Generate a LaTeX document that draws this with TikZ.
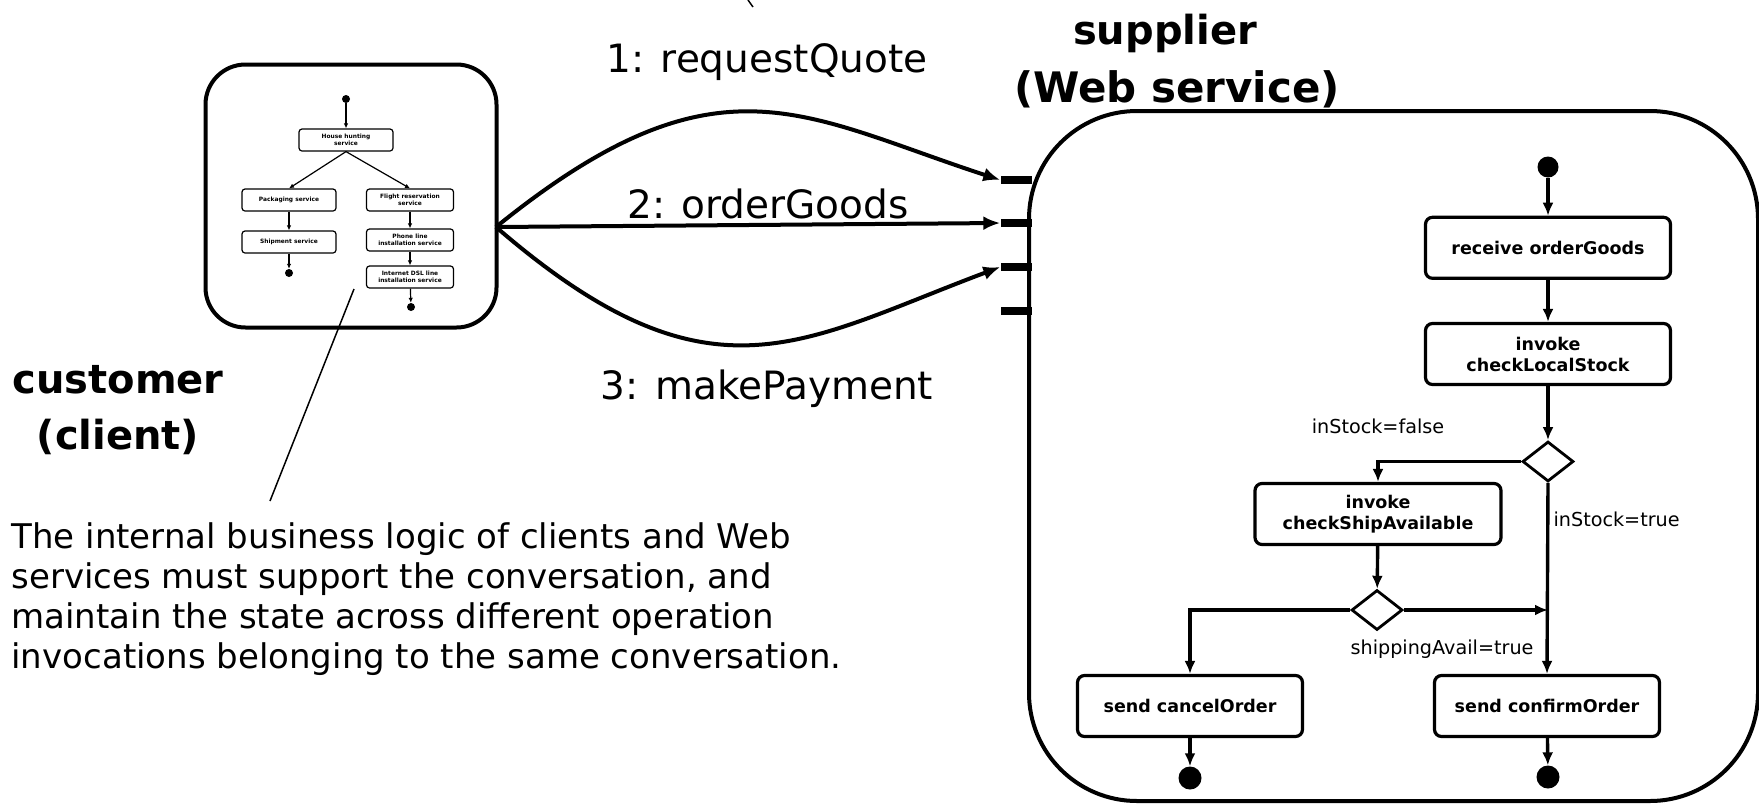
\documentclass[tikz,border=0pt]{standalone}
\usepackage{fontspec}
\setmainfont{DejaVu Sans}
\usetikzlibrary{arrows.meta, positioning, shapes.geometric}

\tikzset{
  act/.style={draw, rounded corners=7pt, line width=3.2pt, minimum width=245pt,
    minimum height=61pt, align=center, font=\fontsize{17.5}{21}\selectfont\bfseries},
  miniact/.style={draw, rounded corners=3pt, line width=1.2pt, minimum width=94pt,
    minimum height=22pt, inner sep=1pt, align=center,
    font=\fontsize{5.9}{7.2}\selectfont\bfseries},
  bullet/.style={circle, fill, inner sep=0pt, minimum size=21pt},
  minibullet/.style={circle, fill, inner sep=0pt, minimum size=8pt},
  choice/.style={diamond, draw, line width=2.8pt, inner sep=0pt,
    minimum width=51pt, minimum height=40pt},
  port/.style={fill, inner sep=0pt, minimum width=31pt, minimum height=8pt},
  guard/.style={font=\fontsize{19.2}{23}\selectfont},
  msg/.style={font=\fontsize{39}{46}\selectfont},
  title/.style={font=\fontsize{42}{48}\selectfont\bfseries},
  flow/.style={->, line width=3.4pt},
  miniflow/.style={-{Latex[length=5pt, width=4.5pt]}, line width=1.2pt},
  call/.style={-{Latex[length=17pt, width=14pt]}, line width=4pt},
}

\begin{document}
\begin{tikzpicture}[x=1pt, y=-1pt, >={Latex[length=13pt, width=11pt]}]
  \useasboundingbox (0,0) rectangle (1759,804);

  % customer side
  \node[draw, line width=4pt, rounded corners=40pt, minimum width=291pt,
    minimum height=263pt] (cust) at (351,196) {};
  \node[minibullet] (c0) at (346,99) {};
  \node[miniact] (hh) at (346,140) {House hunting\\service};
  \node[miniact] (pk) at (289,200) {Packaging service};
  \node[miniact, minimum width=87pt] (fl) at (410,200) {Flight reservation\\service};
  \node[miniact] (sh) at (289,242) {Shipment service};
  \node[miniact, minimum width=87pt] (ph) at (410,240) {Phone line\\installation service};
  \node[miniact, minimum width=87pt] (dsl) at (410,277) {Internet DSL line\\installation service};
  \node[minibullet] (c1) at (289,273) {};
  \node[minibullet] (c2) at (411,307) {};
  \draw[miniflow] (c0) -- (hh);
  \draw[miniflow] (hh.south) -- (pk.north);
  \draw[miniflow] (hh.south) -- (fl.north);
  \draw[miniflow] (pk) -- (sh);
  \draw[miniflow] (sh) -- (c1);
  \draw[miniflow] (fl) -- (ph);
  \draw[miniflow] (ph) -- (dsl);
  \draw[miniflow] (dsl) -- (c2);

  \node[title, align=center, font=\fontsize{40}{56}\selectfont\bfseries] (cname) at (118,410) {customer\\(client)};

  \node[anchor=north west, align=left, font=\fontsize{34}{40}\selectfont] (note) at (8,519)
    {The internal business logic of clients and Web\\
     services must support the conversation, and\\
     maintain the state across different operation\\
     invocations belonging to the same conversation.};
  \coordinate (lead) at (354,289);
  \coordinate (tail) at (270,501);
  \draw[line width=1.5pt] (lead) -- (tail);

  % supplier side
  \node[title, font=\fontsize{40}{48}\selectfont\bfseries] (sname) at (1165,33) {supplier};
  \node[title] (sweb) at (1177,89) {(Web service)};
  \draw[line width=4pt, rounded corners=108pt] (1029,111) rectangle (1758,801);
  \foreach \i/\y in {1/180, 2/223, 3/267, 4/311}
    \node[port] (p\i) at (1016,\y) {};

  \coordinate (out) at (496,227);
  \draw[call] (out) .. controls (717,48) and (801,115) .. (p1.west);
  \draw[call] (out) -- (p2.west);
  \draw[call] (out) .. controls (710,412) and (800,342) .. (p3.west);
  \node[msg] (m1) at (767,62) {1: requestQuote};
  \node[msg] (m2) at (768,204) {2: orderGoods};
  \node[msg] (m3) at (767,389) {3: makePayment};
  \draw[line width=1.5pt] (748,0) -- (753,7);

  \node[bullet] (init) at (1548,167) {};
  \node[act, below=38pt of init] (rcv) {receive orderGoods};
  \node[act, below=42pt of rcv] (chk) {invoke\\checkLocalStock};
  \node[choice, below=54pt of chk] (d1) {};
  \node[act, minimum width=246pt] (ship) at (1378,514) {invoke\\checkShipAvailable};
  \node[choice] (d2) at (1377,610) {};
  \node[act, minimum width=225pt] (cancel) at (1190,706) {send cancelOrder};
  \node[act, minimum width=225pt] (confirm) at (1547,706) {send confirmOrder};
  \node[bullet, minimum size=23pt] (fin1) at (1190,778) {};
  \node[bullet, minimum size=23pt] (fin2) at (1548,777) {};

  \draw[flow] (init) -- (rcv);
  \draw[flow] (rcv) -- (chk);
  \draw[flow] (chk) -- (d1);
  \draw[flow] (d1.west) -| (ship.north);
  \draw[flow] (d1.south) -- (confirm.north);
  \draw[flow] (ship) -- (d2);
  \draw[flow] (d2.west) -| (cancel.north);
  \draw[flow] (d2.east) -- (d2.east -| d1.south);
  \draw[flow] (cancel) -- (fin1);
  \draw[flow] (confirm) -- (fin2);

  \node[guard] (gf) at (1378,426) {inStock=false};
  \node[guard, anchor=west] (gt) at (1550,519) {inStock=true};
  \node[guard] (gs) at (1442,649) {shippingAvail=true};
\end{tikzpicture}
\end{document}
